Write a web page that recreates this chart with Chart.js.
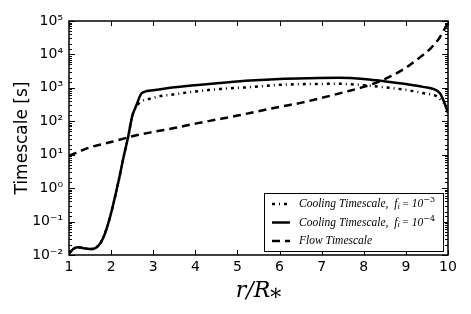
<!DOCTYPE html>
<html>
<head>
<meta charset="utf-8">
<script src="https://cdn.jsdelivr.net/npm/chart.js@4.4.1/dist/chart.umd.min.js"></script>
<style>
  html, body { margin: 0; padding: 0; background: #fff; }
  #wrap { width: 471px; height: 314px; }
</style>
</head>
<body>
<div id="wrap"><canvas id="timescale-chart" width="471" height="314"></canvas></div>
<script>
// r / R_* sample points and timescales [s]
const radiusFlow = [1, 1.5, 2, 2.5, 3, 3.5, 4, 4.5, 5, 5.5, 6, 6.5, 7, 7.5, 8, 8.5, 9, 9.3, 9.6, 9.8, 10];
const flowTimescale = [9.3, 16.6, 24, 35.5, 48, 63, 85, 112, 148, 200, 270, 355, 500, 725, 1070, 1820, 3980, 7600, 15800, 31600, 89000];

const radiusCool4 = [1, 1.1, 1.2, 1.35, 1.55, 1.7, 1.8, 1.9, 2, 2.1, 2.2, 2.3, 2.4, 2.5, 2.6, 2.73, 3, 3.4, 4, 4.6, 5.3, 6, 6.7, 7.4, 8, 8.4, 9, 9.4, 9.8, 9.9, 10];
const cool4 = [0.011, 0.015, 0.017, 0.016, 0.015, 0.019, 0.03, 0.065, 0.18, 0.6, 2.2, 9, 32, 140, 300, 700, 850, 1000, 1200, 1400, 1650, 1850, 1950, 2000, 1850, 1620, 1300, 1070, 710, 400, 180];

const radiusCool3 = [1, 1.1, 1.2, 1.35, 1.55, 1.7, 1.8, 1.9, 2, 2.1, 2.2, 2.3, 2.4, 2.5, 2.6, 3, 3.5, 4, 4.6, 5.3, 6, 6.7, 7.4, 8, 8.4, 9, 9.4, 9.75, 9.9];
const cool3 = [0.011, 0.015, 0.017, 0.016, 0.015, 0.019, 0.03, 0.065, 0.18, 0.6, 2.2, 9, 32, 140, 280, 500, 640, 780, 930, 1050, 1230, 1300, 1320, 1200, 1070, 870, 700, 540, 350];

const xTicks = [1, 2, 3, 4, 5, 6, 7, 8, 9, 10];
const seriesLabels = [
  "Cooling Timescale,  f\u1d62 = 10\u207b\u00b3",
  "Cooling Timescale,  f\u1d62 = 10\u207b\u2074",
  "Flow Timescale",
];

const sup = { "-": "\u207b", "0": "\u2070", "1": "\u00b9", "2": "\u00b2", "3": "\u00b3", "4": "\u2074", "5": "\u2075" };
function powLabel(v) {
  const l = Math.log10(v);
  const n = Math.round(l);
  if (Math.abs(l - n) > 1e-6) return "";
  return "10" + String(n).split("").map((c) => sup[c]).join("");
}

const toPts = (xs, ys) => xs.map((x, i) => ({ x: x, y: ys[i] }));

// draw label with super/subscript chars rendered as small raised/lowered text
const supBack = { "\u207b": "\u2212", "\u00b3": "3", "\u2074": "4" };
function drawRich(ctx, text, x, y) {
  const big = "italic 11.5px 'Liberation Serif'";
  const small = "8px 'DejaVu Serif'";
  const smallIt = "italic 8.5px 'Liberation Serif'";
  for (const ch of text) {
    let s = ch, dy = 0;
    if (supBack[ch]) { s = supBack[ch]; ctx.font = small; dy = -4; }
    else if (ch === "\u1d62") { s = "i"; ctx.font = smallIt; dy = 2.5; }
    else if (ch === "=" ) { s = "="; ctx.font = "11px 'Liberation Serif'"; }
    else ctx.font = big;
    ctx.fillText(s, x, y + dy);
    x += ctx.measureText(s).width;
  }
}

// inward ticks on all four sides + frame
const frameTicks = {
  id: "frameTicks",
  afterDatasetsDraw(chart) {
    const { ctx, chartArea: a, scales } = chart;
    ctx.save();
    ctx.strokeStyle = "#000";
    ctx.lineWidth = 1;
    ctx.beginPath();
    scales.x.ticks.forEach((t) => {
      const px = Math.round(scales.x.getPixelForValue(t.value)) + 0.5;
      ctx.moveTo(px, a.bottom); ctx.lineTo(px, a.bottom - 5);
      ctx.moveTo(px, a.top); ctx.lineTo(px, a.top + 5);
    });
    scales.y.ticks.forEach((t) => {
      const py = Math.round(scales.y.getPixelForValue(t.value)) + 0.5;
      const len = powLabel(t.value) ? 6 : 3;
      ctx.moveTo(a.left, py); ctx.lineTo(a.left + len, py);
      ctx.moveTo(a.right, py); ctx.lineTo(a.right - len, py);
    });
    ctx.stroke();
    ctx.lineWidth = 1.5;
    ctx.strokeRect(a.left, a.top, a.right - a.left, a.bottom - a.top);
    ctx.restore();
  },
};

// legend box in lower right of the plot
const boxLegend = {
  id: "boxLegend",
  afterDraw(chart) {
    const { ctx, chartArea: a } = chart;
    const bx = a.right - 184, by = a.bottom - 62, bw = 179, bh = 58;
    ctx.save();
    ctx.fillStyle = "#fff";
    ctx.fillRect(bx, by, bw, bh);
    ctx.strokeStyle = "#000";
    ctx.lineWidth = 1;
    ctx.strokeRect(bx + 0.5, by + 0.5, bw, bh);
    chart.data.datasets.forEach((ds, i) => {
      const y = by + 11 + i * 18.5;
      ctx.beginPath();
      ctx.setLineDash(ds.borderDash || []);
      ctx.lineWidth = ds.borderWidth;
      ctx.moveTo(bx + 8, y);
      ctx.lineTo(bx + 26, y);
      ctx.stroke();
      ctx.setLineDash([]);
      ctx.fillStyle = "#000";
      ctx.textBaseline = "middle";
      drawRich(ctx, ds.label, bx + 35, y);
    });
    ctx.restore();
  },
};

const ctx = document.getElementById("timescale-chart").getContext("2d");
const timescaleChart = new Chart(ctx, {
  type: "line",
  data: {
    datasets: [
      {
        label: seriesLabels[0],
        data: toPts(radiusCool3, cool3),
        borderColor: "#000",
        borderWidth: 2.5,
        borderDash: [3, 4, 1, 4],
      },
      {
        label: seriesLabels[1],
        data: toPts(radiusCool4, cool4),
        borderColor: "#000",
        borderWidth: 2.5,
      },
      {
        label: seriesLabels[2],
        data: toPts(radiusFlow, flowTimescale),
        borderColor: "#000",
        borderWidth: 2.5,
        borderDash: [8, 5],
      },
    ],
  },
  options: {
    responsive: false,
    animation: false,
    layout: { padding: { top: 21, right: 23, left: 0, bottom: 0 } },
    elements: {
      point: { radius: 0 },
      line: { cubicInterpolationMode: "monotone", fill: false },
    },
    plugins: { legend: { display: false }, tooltip: { enabled: false } },
    scales: {
      x: {
        type: "linear",
        min: 1,
        max: 10,
        afterFit: (scale) => { scale.height = 59; },
        afterBuildTicks: (scale) => { scale.ticks = xTicks.map((v) => ({ value: v })); },
        grid: { drawOnChartArea: false, drawTicks: false },
        border: { display: false },
        ticks: { color: "#000", font: { family: "DejaVu Sans", size: 14 }, padding: 4 },
        title: {
          display: true,
          text: "r/R\u204e",
          color: "#000",
          font: { family: "DejaVu Serif", size: 22, style: "italic" },
          padding: { top: 0, bottom: 10 },
        },
      },
      y: {
        type: "logarithmic",
        min: 0.01,
        max: 100000,
        afterFit: (scale) => { scale.width = 69; },
        grid: { drawOnChartArea: false, drawTicks: false },
        border: { display: false },
        ticks: {
          autoSkip: false,
          color: "#000",
          font: { family: "DejaVu Sans", size: 14 },
          padding: 6,
          callback: (v) => powLabel(v),
        },
        title: {
          display: true,
          text: "Timescale [s]",
          color: "#000",
          font: { family: "DejaVu Sans", size: 17 },
          padding: { top: 12, bottom: 0 },
        },
      },
    },
  },
  plugins: [frameTicks, boxLegend],
});
</script>
</body>
</html>
